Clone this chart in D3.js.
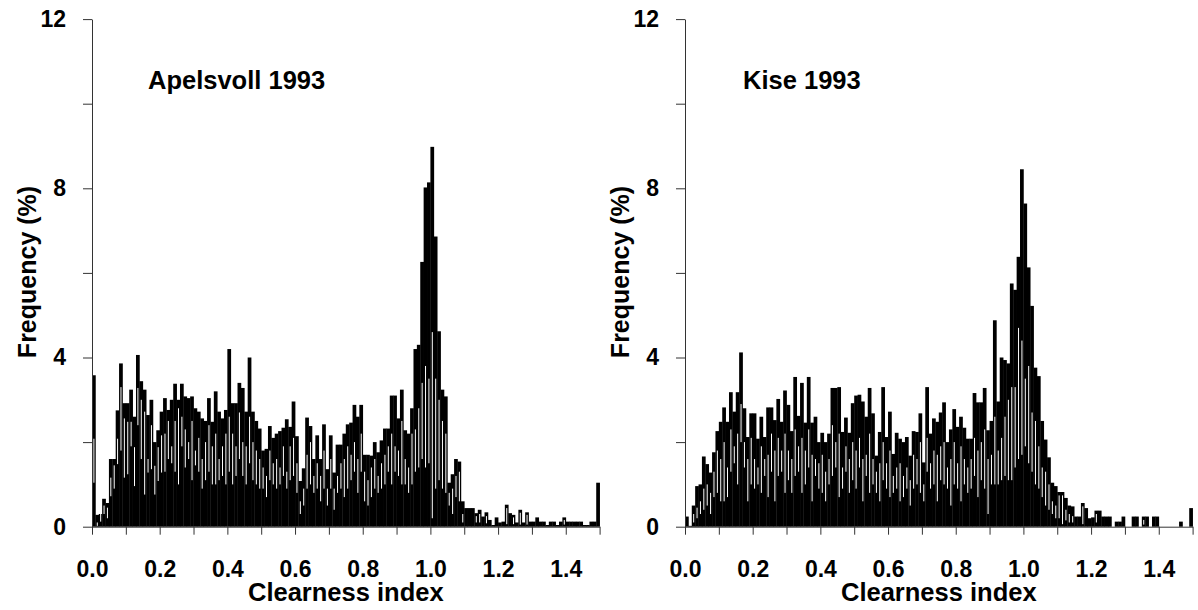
<!DOCTYPE html>
<html>
<head>
<meta charset="utf-8">
<script src="https://cdn.jsdelivr.net/npm/d3@7"></script>
<style>
  body { margin: 0; background: #fff; }
  svg { display: block; }
  text { font-family: "Liberation Sans", Arial, sans-serif; font-weight: bold; fill: #000; }
</style>
</head>
<body>
<div id="myChart"></div>
<script>
// Canvas size
const w = 1198;
const h = 610;

// Histogram bins: 0.00 .. 1.49, width 0.01
const binWidth = 0.01;

// Apelsvoll 1993 - bar tops (%)
const apelsvollTop = [
  3.58, 0.28, 0.3, 0.66, 0.56, 1.6, 1.6, 2.75, 3.86, 2.92,
  2.92, 3.24, 2.6, 4.06, 3.44, 3.24, 2.64, 3.0, 2.0, 2.28,
  2.72, 3.04, 2.76, 3.0, 3.38, 3.0, 3.38, 3.08, 3.04, 3.08,
  2.8, 2.72, 2.56, 2.5, 3.04, 2.48, 3.2, 2.72, 2.56, 2.76,
  4.2, 2.92, 2.92, 3.4, 3.28, 2.72, 4.0, 2.72, 2.5, 2.32,
  1.8, 1.84, 2.38, 2.1, 2.2, 2.26, 2.34, 2.54, 2.36, 2.96,
  2.14, 1.08, 1.38, 2.58, 2.38, 1.6, 2.16, 1.6, 2.42, 1.36,
  2.16, 1.28, 1.94, 1.94, 2.2, 2.42, 2.46, 2.88, 2.6, 2.88,
  1.7, 1.7, 1.68, 2.0, 1.76, 2.04, 2.32, 2.32, 3.1, 3.1,
  2.56, 3.24, 2.28, 2.2, 2.8, 4.2, 4.3, 6.26, 8.02, 8.14,
  8.98, 6.86, 4.62, 3.24, 3.08, 1.04, 1.24, 1.6, 1.54, 0.6,
  0.44, 0.44, 0.44, 0.32, 0.4, 0.24, 0.34, 0.16, 0.04, 0.22,
  0.1, 0.12, 0.52, 0.32, 0.28, 0.1, 0.4, 0.1, 0.34, 0.12,
  0.12, 0.22, 0.12, 0.12, 0.04, 0.12, 0.12, 0.04, 0.12, 0.22,
  0.12, 0.12, 0.12, 0.12, 0.12, 0.04, 0.04, 0.12, 0.12, 1.04
];
// Apelsvoll 1993 - white gap, upper and lower end (%)
const apelsvollGapHi = [
  2.08, 0.1, 0.48, 0.5, 0.45, 1.16, 1.45, 2.08, 3.3, 2.56,
  2.48, 2.48, 1.88, 3.28, 3.0, 2.72, 1.6, 2.4, 1.44, 1.88,
  2.16, 2.2, 2.5, 1.9, 2.5, 2.8, 2.6, 2.3, 2.0, 2.5,
  1.8, 2.1, 1.6, 2.0, 2.4, 1.9, 2.2, 1.6, 1.9, 2.2,
  2.6, 2.2, 1.9, 2.7, 2.0, 1.9, 2.6, 2.0, 1.8, 1.6,
  1.4, 1.2, 1.8, 1.5, 1.6, 1.4, 1.9, 1.3, 1.9, 2.1,
  1.5, 0.6, 0.9, 1.7, 2.0, 1.2, 1.5, 1.2, 1.8, 0.9,
  1.6, 0.9, 1.2, 1.5, 1.6, 1.9, 1.7, 2.0, 1.6, 2.2,
  1.3, 1.1, 1.4, 1.6, 1.2, 1.5, 1.7, 1.9, 2.2, 1.9,
  1.8, 2.5, 1.6, 1.4, 2.2, 2.3, 2.8, 3.4, 3.8, 3.5,
  4.6, 3.5, 3.0, 2.5, 2.2, 0.8, 0.9, 1.2, 1.3, 0.3,
  0, 0, 0, 0.25, 0.3, 0, 0.25, 0, 0, 0,
  0, 0, 0.44, 0, 0.22, 0, 0.33, 0, 0.28, 0,
  0, 0, 0, 0, 0, 0, 0, 0, 0, 0.16,
  0, 0, 0, 0, 0, 0, 0, 0, 0, 0
];
const apelsvollGapLo = [
  1.04, 0.02, 0.12, 0.3, 0.2, 0.72, 0.9, 1.48, 1.8, 1.16,
  1.24, 1.9, 0.96, 2.4, 1.6, 0.76, 1.28, 1.36, 0.76, 1.08,
  1.28, 1.3, 1.6, 1.5, 1.3, 1.0, 1.9, 1.4, 1.6, 1.1,
  1.45, 1.3, 0.9, 1.1, 1.3, 1.0, 1.0, 1.1, 1.2, 1.0,
  1.3, 1.0, 1.2, 1.6, 1.2, 1.0, 1.5, 1.1, 1.0, 0.9,
  0.9, 0.7, 1.1, 1.0, 0.9, 1.0, 1.2, 0.9, 1.1, 1.2,
  0.8, 0.3, 0.5, 0.9, 1.0, 0.8, 0.9, 0.6, 0.9, 0.5,
  0.9, 0.4, 0.8, 0.9, 0.7, 0.9, 1.1, 1.3, 0.8, 1.3,
  0.6, 0.5, 0.7, 0.9, 0.8, 0.9, 1.0, 1.3, 1.0, 1.3,
  1.2, 1.0, 1.0, 0.8, 1.0, 1.3, 1.4, 1.6, 1.4, 1.5,
  0.2, 0.9, 1.1, 0.9, 0.8, 0.5, 0.3, 0.7, 0.6, 0.1,
  0, 0, 0, 0.1, 0.1, 0, 0.08, 0, 0, 0,
  0, 0, 0.06, 0, 0.06, 0, 0.05, 0, 0.05, 0,
  0, 0, 0, 0, 0, 0, 0, 0, 0, 0.05,
  0, 0, 0, 0, 0, 0, 0, 0, 0, 0
];

// Kise 1993 - bar tops (%)
const kiseTop = [
  0.24, 0.02, 0.5, 0.96, 1.0, 1.66, 1.48, 1.28, 1.76, 2.26,
  2.48, 2.82, 2.48, 3.18, 2.72, 3.18, 4.12, 2.8, 2.12, 2.68,
  2.68, 2.08, 2.6, 2.12, 2.82, 2.82, 2.52, 3.02, 2.48, 3.22,
  2.88, 2.26, 3.54, 2.62, 3.4, 2.46, 3.54, 2.46, 2.6, 2.0,
  2.22, 2.0, 2.2, 3.28, 3.28, 3.3, 2.24, 2.58, 2.22, 2.92,
  3.1, 3.12, 2.96, 2.6, 3.28, 2.68, 1.68, 2.24, 3.3, 2.12,
  2.72, 1.72, 2.22, 2.08, 2.0, 2.12, 1.68, 2.26, 2.24, 2.68,
  1.52, 3.3, 2.2, 2.56, 2.48, 2.7, 2.94, 2.0, 2.3, 2.78,
  2.36, 2.6, 2.34, 2.08, 2.08, 3.16, 2.94, 2.94, 3.28, 2.28,
  2.5, 4.88, 2.96, 4.0, 3.94, 3.86, 5.75, 5.6, 6.38, 8.45,
  7.64, 6.13, 5.22, 3.76, 3.56, 2.5, 2.06, 1.64, 1.04, 0.96,
  0.82, 0.82, 0.68, 0.5, 0.48, 0.24, 0.24, 0.56, 0.44, 0.2,
  0.22, 0.38, 0.38, 0.24, 0.24, 0.24, 0, 0.12, 0.12, 0.24,
  0, 0, 0.24, 0.24, 0, 0.24, 0.24, 0, 0.24, 0.24,
  0, 0, 0, 0, 0, 0, 0.12, 0, 0, 0.44
];
const kiseGapHi = [
  0, 0, 0.3, 0.45, 0.6, 0.9, 1.0, 0.8, 1.3, 1.8,
  1.6, 2.0, 1.4, 2.3, 1.9, 2.2, 2.9, 2.0, 1.6, 2.1,
  1.6, 1.4, 1.9, 1.6, 1.7, 2.2, 1.8, 2.1, 1.8, 2.2,
  1.8, 1.6, 2.3, 1.9, 2.1, 1.8, 2.3, 1.7, 1.6, 1.5,
  1.7, 1.3, 1.6, 2.4, 2.0, 2.2, 1.4, 1.9, 1.6, 2.0,
  1.8, 2.1, 1.6, 1.7, 2.2, 1.6, 1.3, 1.5, 2.0, 1.5,
  1.8, 1.2, 1.4, 1.5, 1.2, 1.4, 1.1, 1.7, 1.6, 2.0,
  1.0, 2.1, 1.5, 1.8, 1.7, 1.9, 2.0, 1.4, 1.6, 2.0,
  1.5, 1.9, 1.6, 1.4, 1.6, 2.1, 1.8, 2.0, 2.3, 1.6,
  1.7, 2.6, 1.8, 2.1, 2.6, 3.0, 3.3, 3.3, 4.7, 4.4,
  3.5, 3.8, 2.7, 2.5, 1.9, 1.4, 1.3, 1.0, 0.6, 0.5,
  0.74, 0.74, 0.4, 0.3, 0.25, 0, 0, 0.48, 0, 0,
  0, 0.3, 0, 0, 0, 0, 0, 0, 0, 0,
  0, 0, 0, 0, 0, 0.16, 0, 0, 0, 0,
  0, 0, 0, 0, 0, 0, 0, 0, 0, 0
];
const kiseGapLo = [
  0, 0, 0.1, 0.2, 0.3, 0.4, 0.5, 0.3, 0.7, 0.8,
  0.6, 0.6, 0.7, 1.3, 1.5, 1.0, 2.0, 1.4, 0.6, 1.0,
  0.9, 1.0, 0.8, 1.2, 0.7, 1.3, 0.6, 1.2, 1.3, 0.8,
  1.1, 0.8, 1.2, 1.3, 0.8, 1.0, 1.4, 0.6, 1.2, 0.9,
  0.8, 0.6, 1.0, 1.2, 1.4, 0.7, 0.9, 1.3, 0.8, 1.1,
  0.9, 1.4, 0.6, 1.2, 0.8, 1.0, 0.8, 0.6, 1.1, 0.9,
  0.7, 0.8, 0.9, 0.6, 0.7, 0.9, 0.5, 0.9, 1.0, 0.8,
  0.6, 1.3, 0.9, 1.0, 0.6, 1.1, 1.0, 0.9, 0.5, 1.0,
  0.9, 0.6, 1.0, 0.8, 0.9, 1.2, 0.7, 1.1, 0.9, 0.3,
  1.0, 1.0, 1.0, 1.1, 1.2, 1.1, 1.1, 1.4, 1.6, 1.7,
  1.9, 1.5, 1.3, 1.0, 0.9, 0.7, 0.5, 0.4, 0.3, 0.2,
  0.2, 0.06, 0.15, 0.1, 0.1, 0, 0, 0.06, 0, 0,
  0, 0.1, 0, 0, 0, 0, 0, 0, 0, 0,
  0, 0, 0, 0, 0, 0.05, 0, 0, 0, 0,
  0, 0, 0, 0, 0, 0, 0, 0, 0, 0
];

// Tick values and labels
const xTicks = [0, 0.1, 0.2, 0.3, 0.4, 0.5, 0.6, 0.7, 0.8, 0.9, 1.0, 1.1, 1.2, 1.3, 1.4, 1.5];
const xTickLabels = ["0.0", "", "0.2", "", "0.4", "", "0.6", "", "0.8", "", "1.0", "", "1.2", "", "1.4", ""];
const yTicks = [0, 2, 4, 6, 8, 10, 12];
const yTickLabels = ["0", "", "4", "", "8", "", "12"];

const panels = [
  { title: "Apelsvoll 1993", top: apelsvollTop, hi: apelsvollGapHi, lo: apelsvollGapLo, left: 92, titleX: 148 },
  { title: "Kise 1993", top: kiseTop, hi: kiseGapHi, lo: kiseGapLo, left: 685, titleX: 743 }
];

// Plot area (same px per unit on both axes)
const innerWidth = 507.6;
const innerHeight = 507.6;
const plotTop = 526.7 - innerHeight;

const svg = d3.select("#myChart")
  .append("svg")
    .attr("width", w)
    .attr("height", h)
    .attr("viewBox", [0, 0, w, h]);

const xScale = d3.scaleLinear().domain([0, 1.5]).range([0, innerWidth]);
const yScale = d3.scaleLinear().domain([0, 12]).range([innerHeight, 0]);
const bw = xScale(binWidth) - xScale(0);

panels.forEach(p => {
  const g = svg.append("g")
    .attr("transform", `translate(${p.left},${plotTop})`);

  const bins = p.top.map((v, i) => ({ x0: i * binWidth, top: v, hi: p.hi[i], lo: p.lo[i] }));

  // black bars
  g.append("g")
    .selectAll("rect")
    .data(bins.filter(d => d.top > 0))
    .join("rect")
      .attr("x", d => xScale(d.x0))
      .attr("y", d => yScale(d.top))
      .attr("width", bw + 0.35)
      .attr("height", d => yScale(0) - yScale(d.top))
      .attr("fill", "#000");

  // white gaps inside bars
  g.append("g")
    .selectAll("rect")
    .data(bins.filter(d => d.hi > d.lo))
    .join("rect")
      .attr("x", d => xScale(d.x0) + 1.4)
      .attr("y", d => yScale(d.hi))
      .attr("width", 1.0)
      .attr("height", d => yScale(d.lo) - yScale(d.hi))
      .attr("fill", "#fff");

  // axes
  const xAxis = d3.axisBottom(xScale)
    .tickValues(xTicks)
    .tickSize(8)
    .tickSizeOuter(0)
    .tickPadding(26)
    .tickFormat((d, i) => xTickLabels[i]);

  const yAxis = d3.axisLeft(yScale)
    .tickValues(yTicks)
    .tickSize(9)
    .tickSizeOuter(0)
    .tickPadding(17)
    .tickFormat((d, i) => yTickLabels[i]);

  const gx = g.append("g")
    .attr("transform", `translate(0,${innerHeight})`)
    .call(xAxis);
  const gy = g.append("g").call(yAxis);

  [gx, gy].forEach(a => {
    a.select(".domain").attr("stroke", "#333").attr("stroke-width", 1);
    a.selectAll(".tick line").attr("stroke", "#333");
    a.selectAll(".tick text")
      .attr("font-family", "Liberation Sans, Arial, sans-serif")
      .attr("font-weight", "bold")
      .attr("font-size", 23);
    // drop the empty labels of the minor ticks
    a.selectAll(".tick text").filter(function() { return this.textContent === ""; }).remove();
  });

  // panel title
  svg.append("text")
    .attr("x", p.titleX)
    .attr("y", 89)
    .attr("font-size", 25.5)
    .text(p.title);

  // axis titles
  svg.append("text")
    .attr("x", p.left + xScale(0.75))
    .attr("y", 601)
    .attr("text-anchor", "middle")
    .attr("font-size", 25.5)
    .text("Clearness index");

  svg.append("text")
    .attr("transform", `translate(${p.left - 56},272) rotate(-90)`)
    .attr("text-anchor", "middle")
    .attr("font-size", 25)
    .text("Frequency (%)");
});
</script>
</body>
</html>
